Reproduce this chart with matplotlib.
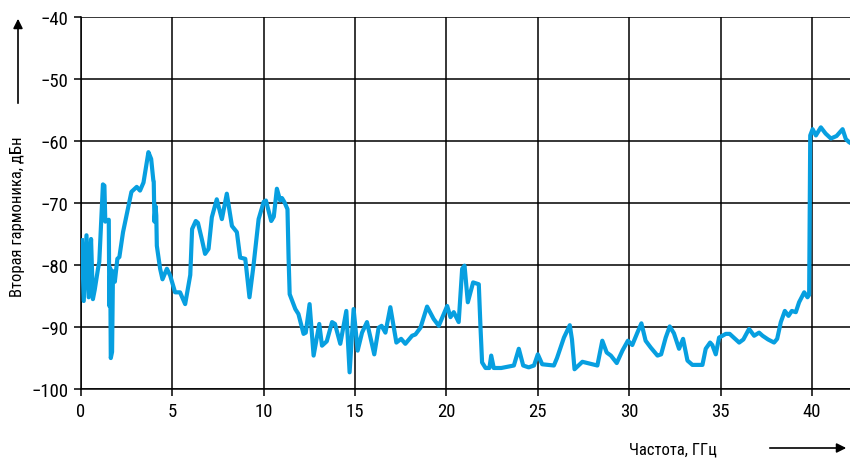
import matplotlib
matplotlib.use("Agg")
import matplotlib.pyplot as plt
from matplotlib import font_manager
import numpy as np

# frequency, GHz
freq = [0.05, 0.15, 0.3, 0.42, 0.55, 0.65, 0.75, 0.93, 1.0, 1.2, 1.28, 1.33, 1.4, 1.52,
        1.55, 1.6, 1.63, 1.7, 1.75, 1.85, 1.99, 2.1, 2.3, 2.76, 3.05, 3.23, 3.42, 3.69,
        3.84, 3.96, 3.98, 4.02, 4.08, 4.12, 4.15, 4.33, 4.46, 4.7, 4.88, 5.15, 5.42, 5.7,
        5.88, 5.98, 6.08, 6.28, 6.4, 6.61, 6.79, 6.98, 7.16, 7.43, 7.71, 7.98, 8.26, 8.53,
        8.71, 8.99, 9.22, 9.44, 9.72, 10.0, 10.12, 10.41, 10.55, 10.72, 10.9, 11.0, 11.14,
        11.3, 11.36, 11.42, 11.73, 11.9, 12.18, 12.3, 12.51, 12.73, 13.04, 13.19, 13.45,
        13.74, 13.9, 14.19, 14.52, 14.7, 14.92, 15.14, 15.38, 15.65, 16.05, 16.29, 16.45,
        16.66, 16.93, 17.26, 17.52, 17.75, 18.12, 18.3, 18.58, 18.94, 19.3, 19.58, 20.04,
        20.22, 20.4, 20.67, 20.86, 20.99, 21.17, 21.46, 21.77, 21.86, 21.95, 22.14, 22.35,
        22.45, 22.59, 23.0, 23.69, 23.96, 24.2, 24.5, 24.79, 25.0, 25.24, 25.88, 26.05,
        26.43, 26.75, 26.87, 27.01, 27.44, 28.26, 28.53, 28.77, 29.0, 29.32, 29.63, 29.93,
        30.17, 30.45, 30.67, 30.9, 31.18, 31.55, 31.75, 32.0, 32.22, 32.45, 32.73, 32.95,
        33.19, 33.46, 34.01, 34.19, 34.43, 34.55, 34.74, 34.92, 35.29, 35.5, 36.02, 36.25,
        36.56, 36.84, 37.11, 37.3, 37.6, 37.93, 38.1, 38.3, 38.52, 38.72, 38.9, 39.12,
        39.3, 39.58, 39.76, 39.85, 39.91, 40.04, 40.22, 40.49, 40.75, 41.04, 41.35, 41.68,
        41.86, 42.04, 42.1]

# second harmonic, dBc
harm = [-76.0, -85.8, -75.2, -85.2, -75.8, -85.5, -84.0, -80.6, -79.5, -67.0, -67.2, -73.0,
        -72.8, -72.7, -86.6, -80.5, -95.0, -94.0, -81.0, -82.7, -79.0, -78.7, -74.7, -68.2,
        -67.4, -68.0, -66.7, -61.8, -62.9, -66.4, -66.5, -73.0, -70.5, -72.0, -76.9, -80.6,
        -82.3, -80.6, -81.7, -84.4, -84.4, -86.3, -83.3, -81.6, -74.2, -72.9, -73.2, -75.8,
        -78.2, -77.4, -72.3, -69.4, -72.6, -68.5, -73.7, -74.7, -78.8, -79.0, -85.2, -80.1,
        -72.6, -69.8, -69.6, -72.9, -72.2, -67.7, -69.6, -69.2, -69.9, -71.0, -78.8, -84.7,
        -87.1, -87.9, -91.1, -90.9, -86.3, -94.6, -89.5, -93.0, -92.3, -89.2, -89.5, -92.7,
        -87.4, -97.3, -87.1, -93.8, -90.9, -89.2, -94.4, -90.1, -89.8, -90.9, -86.8, -92.5,
        -91.9, -92.7, -91.4, -91.2, -90.1, -86.7, -88.7, -89.8, -86.6, -88.4, -87.6, -89.2,
        -80.6, -80.1, -86.0, -82.8, -83.1, -89.8, -95.7, -96.6, -96.6, -94.6, -96.6, -96.6,
        -96.2, -93.5, -96.2, -96.5, -96.2, -94.4, -96.0, -96.2, -95.0, -91.7, -89.7, -92.0,
        -96.8, -95.6, -96.2, -92.2, -94.1, -94.6, -95.8, -93.8, -92.2, -92.9, -90.9, -89.4,
        -92.2, -93.3, -94.6, -94.4, -91.7, -89.9, -91.0, -93.5, -91.9, -95.4, -96.1, -96.1,
        -93.5, -92.5, -92.9, -94.4, -91.7, -91.1, -91.1, -92.5, -92.0, -90.3, -91.4, -90.9,
        -91.4, -92.0, -92.5, -91.9, -89.2, -87.4, -88.2, -87.4, -87.6, -86.0, -84.4, -85.2,
        -84.8, -59.1, -58.1, -59.1, -57.8, -58.8, -59.6, -59.2, -58.1, -59.7, -60.2, -60.3]

xticks = [0, 5, 10, 15, 20, 25, 30, 35, 40]
yticks = [-100, -90, -80, -70, -60, -50, -40]

# narrow face if there is one, the original uses a condensed grotesque
names = {f.name for f in font_manager.fontManager.ttflist}
narrow = [n for n in ['Liberation Sans Narrow', 'Roboto Condensed', 'Open Sans Condensed']
          if n in names]
if narrow:
    plt.rcParams['font.family'] = [narrow[0], 'DejaVu Sans']
else:
    plt.rcParams['font.family'] = ['DejaVu Sans']
    plt.rcParams['font.stretch'] = 'condensed'

fig = plt.figure(figsize=(8.5, 4.6), dpi=100)
ax = fig.add_axes([0.0953, 0.152, 0.905, 0.809])

ax.plot(freq, harm, color='#079fe0', lw=3.0, solid_joinstyle='round', zorder=3)

ax.set_xlim(0, 42.1)
ax.set_ylim(-100, -40)
ax.set_xticks(xticks)
ax.set_yticks(yticks)
ax.set_yticklabels([str(v).replace('-', '\u2212') for v in yticks])
ax.grid(True, color='black', lw=1.1)
ax.set_axisbelow(True)

for side in ['top', 'right']:
    ax.spines[side].set_visible(False)
for side in ['left', 'bottom']:
    ax.spines[side].set_linewidth(1.1)
ax.tick_params(direction='out', length=5, width=1.1, labelsize=13.5, pad=4)

# axis captions with arrows, like in the original figure
fig.text(0.021, 1 - 217 / 460, 'Вторая гармоника, дБн', rotation=90, fontsize=12,
         ha='center', va='center')
ax.annotate('', xy=(18, 443), xytext=(18, 353), xycoords='figure pixels',
            arrowprops=dict(arrowstyle='-|>', color='black', lw=1.2,
                            mutation_scale=14))
fig.text(673 / 850, 1 - 450 / 460, 'Частота, ГГц', fontsize=12,
         ha='center', va='center')
ax.annotate('', xy=(849, 11), xytext=(767, 11), xycoords='figure pixels',
            arrowprops=dict(arrowstyle='-|>', color='black', lw=1.2,
                            mutation_scale=14))

fig.savefig('out.png', dpi=100)
